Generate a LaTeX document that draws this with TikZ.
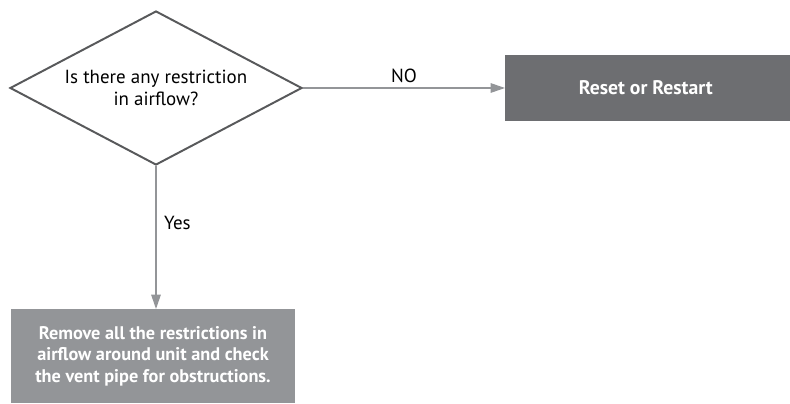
\documentclass[tikz,border=0pt]{standalone}
\usepackage{fontspec}
\setmainfont{PT Sans}
\usepackage{tikz}
\usetikzlibrary{shapes,arrows.meta,positioning,calc}
\definecolor{darkbox}{HTML}{6D6E71}
\definecolor{lightbox}{HTML}{939598}
\definecolor{edgegray}{HTML}{58595B}
\definecolor{linegray}{HTML}{939598}

\begin{document}
\begin{tikzpicture}[node distance=1.5cm, auto,
    flowline/.style={-{Triangle[length=3.6mm,width=2.4mm]}, draw=linegray, line width=0.8pt, color=linegray},
    actionbox/.style={rectangle, text=white, align=center, font=\fontsize{13}{15.6}\selectfont\bfseries}]
    \useasboundingbox (0,0) rectangle (19.75,10.075);

    % Decision diamond
    \node[draw=edgegray, line width=1.4pt, diamond, aspect=1.9, inner sep=0pt, minimum width=7.3cm, minimum height=3.85cm, align=center, font=\fontsize{13.5}{15.6}\selectfont] (restrict) at (3.9,7.875) {
        Is there any restriction\\
        in airflow?
    };

    % Reset box
    \node[actionbox, fill=darkbox, minimum width=7.15cm, minimum height=1.65cm, right=5.05cm of restrict, font=\fontsize{14}{15.6}\selectfont\bfseries] (reset) {
        Reset or Restart
    };

    % Remove box
    \node[actionbox, fill=lightbox, minimum width=7.1cm, minimum height=2.35cm, below=3.575cm of restrict, xshift=-0.075cm] (remove) {
        Remove all the restrictions in\\
        airflow around unit and check\\
        the vent pipe for obstructions.
    };

    % Connectors
    \draw[flowline] (restrict) -- node[above, text=black, font=\fontsize{13.5}{15.6}\selectfont] {NO} (reset);
    \draw[flowline] (restrict) -- node[right, pos=0.4, text=black, xshift=2pt, font=\fontsize{13.5}{15.6}\selectfont] {Yes} (restrict |- remove.north);
\end{tikzpicture}
\end{document}
